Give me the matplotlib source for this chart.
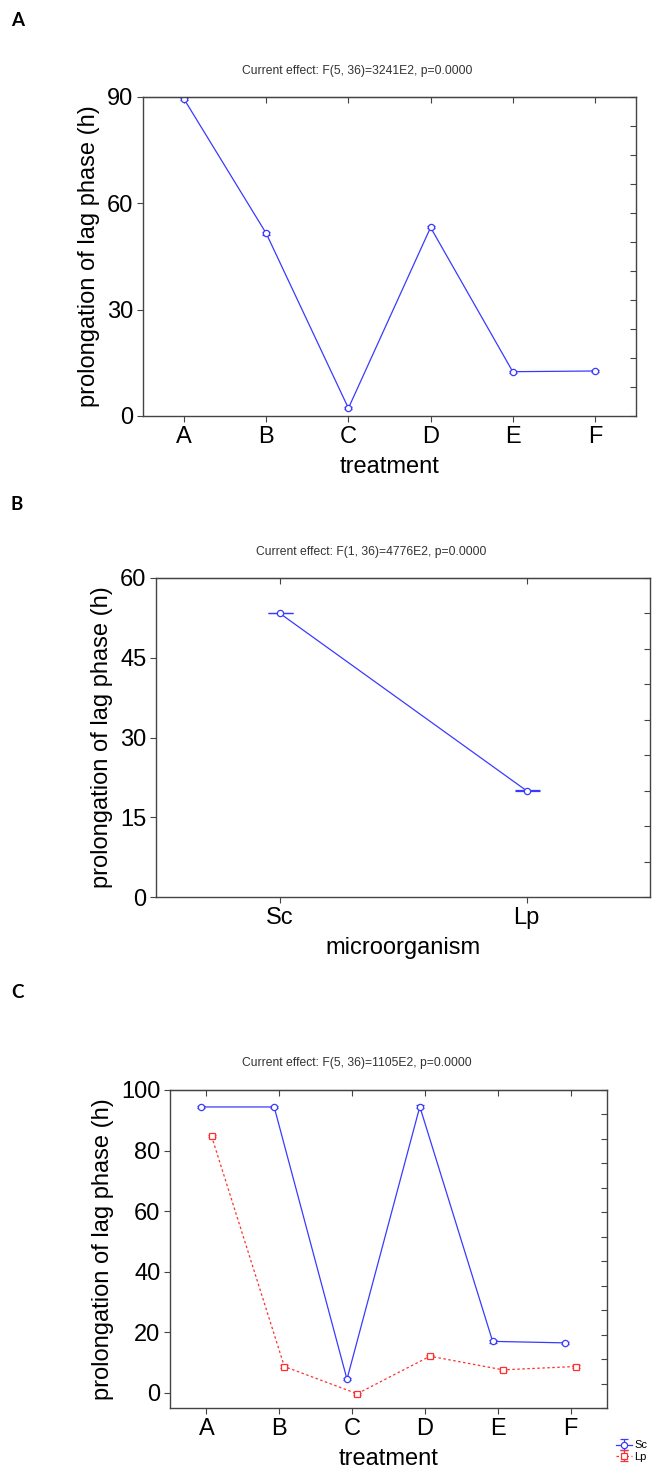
import numpy as np
import matplotlib
matplotlib.use("Agg")
import matplotlib.pyplot as plt

plt.rcParams['font.family'] = ['Liberation Sans', 'DejaVu Sans']

# data
treatments = ['A', 'B', 'C', 'D', 'E', 'F']
lag_treatment = [89.4, 51.5, 2.2, 53.2, 12.5, 12.7]
err_treatment = [0.3, 0.3, 0.3, 0.3, 0.3, 0.3]

microorganisms = ['Sc', 'Lp']
lag_micro = [53.4, 20.0]
err_micro = [0.04, 0.04]

lag_sc = [94.4, 94.4, 4.5, 94.5, 17.0, 16.5]
lag_lp = [84.8, 8.7, -0.3, 12.1, 7.6, 8.7]
err_sc = [0.4, 0.4, 0.4, 0.4, 0.4, 0.4]
err_lp = [0.4, 0.4, 0.4, 0.4, 0.4, 0.4]

titles = ["Current effect: F(5, 36)=3241E2, p=0.0000",
          "Current effect: F(1, 36)=4776E2, p=0.0000",
          "Current effect: F(5, 36)=1105E2, p=0.0000"]

W, H = 659, 1472
BLUE = '#3a3aff'
RED = '#ff3030'
SPINE = '#444444'

fig = plt.figure(figsize=(W / 100, H / 100), dpi=100)


def make_axes(left, right, top, bottom):
    return fig.add_axes([left / W, 1 - bottom / H, (right - left) / W, (bottom - top) / H])


def style_axes(ax, ylim, yticks, nright, xlabel):
    ax.set_ylim(*ylim)
    ax.set_yticks(yticks)
    ax.tick_params(axis='both', labelsize=17, direction='out', length=4,
                   color=SPINE, width=0.8, pad=3)
    for s in ax.spines.values():
        s.set_color(SPINE)
        s.set_linewidth(1.0)
    ax.set_ylabel('prolongation of lag phase (h)', fontsize=17, labelpad=5)
    ax.set_xlabel(xlabel, fontsize=17, labelpad=6)
    # inward ticks on top and right like STATISTICA draws them
    top = ax.secondary_xaxis('top')
    top.set_xticks(ax.get_xticks())
    top.tick_params(direction='in', length=4, labeltop=False, color=SPINE, width=0.8)
    right = ax.twinx()
    right.set_ylim(*ylim)
    right.set_yticks(np.linspace(ylim[0], ylim[1], nright + 1))
    right.tick_params(direction='in', length=4, labelright=False, color=SPINE, width=0.8)
    for s in right.spines.values():
        s.set_visible(False)


def add_title(ax, text, y):
    bb = ax.get_position()
    cx = (bb.x0 + bb.x1) / 2 - 32 / W
    fig.text(cx, 1 - y / H, text, ha='center', va='center', fontsize=8.7, color='#333333')


# ---- panel A
axA = make_axes(143, 636, 97, 416)
xa = np.arange(len(treatments))
axA.errorbar(xa, lag_treatment, yerr=err_treatment, color=BLUE, lw=0.9,
             marker='o', ms=4.5, mfc='white', mec=BLUE, mew=0.9, capsize=3, elinewidth=0.9)
axA.set_xlim(-0.5, len(treatments) - 0.5)
axA.set_xticks(xa)
axA.set_xticklabels(treatments)
style_axes(axA, (0, 90), [0, 30, 60, 90], 11, 'treatment')
add_title(axA, titles[0], 71)

# ---- panel B
axB = make_axes(156, 650, 578, 897)
xb = np.arange(len(microorganisms))
axB.errorbar(xb, lag_micro, yerr=err_micro, color=BLUE, lw=0.9,
             marker='o', ms=4.5, mfc='white', mec=BLUE, mew=0.9, capsize=9,
             elinewidth=0.9, capthick=1.6)
axB.set_xlim(-0.5, len(microorganisms) - 0.5)
axB.set_xticks(xb)
axB.set_xticklabels(microorganisms)
style_axes(axB, (0, 60), [0, 15, 30, 45, 60], 9, 'microorganism')
add_title(axB, titles[1], 552)

# ---- panel C
axC = make_axes(170, 607, 1090, 1408)
xc = np.arange(len(treatments))
off = 0.07
h_sc = axC.errorbar(xc - off, lag_sc, yerr=err_sc, color=BLUE, lw=0.9,
                    marker='o', ms=4.5, mfc='white', mec=BLUE, mew=0.9,
                    capsize=3, elinewidth=0.9, label='Sc')
h_lp = axC.errorbar(xc + off, lag_lp, yerr=err_lp, color=RED, lw=0.9, ls=(0, (2, 2)),
                    marker='s', ms=4.5, mfc='white', mec=RED, mew=0.9,
                    capsize=3, elinewidth=0.9, label='Lp')
axC.set_xlim(-0.5, len(treatments) - 0.5)
axC.set_xticks(xc)
axC.set_xticklabels(treatments)
style_axes(axC, (-5, 100), [0, 20, 40, 60, 80, 100], 13, 'treatment')
add_title(axC, titles[2], 1063)
fig.legend(handles=[h_sc, h_lp], labels=['Sc', 'Lp'], loc='center left',
           bbox_to_anchor=(616 / W, 1 - 1451 / H), frameon=False, fontsize=8,
           handlelength=1.4, handletextpad=0.25, labelspacing=0.1, borderpad=0,
           borderaxespad=0)

# panel letters
for letter, y in [('A', 21), ('B', 505), ('C', 993)]:
    fig.text(11 / W, 1 - y / H, letter, ha='left', va='center', fontsize=13.5,
             fontweight='bold', family=['Lato', 'DejaVu Sans'])

fig.savefig('out.png', dpi=100)
